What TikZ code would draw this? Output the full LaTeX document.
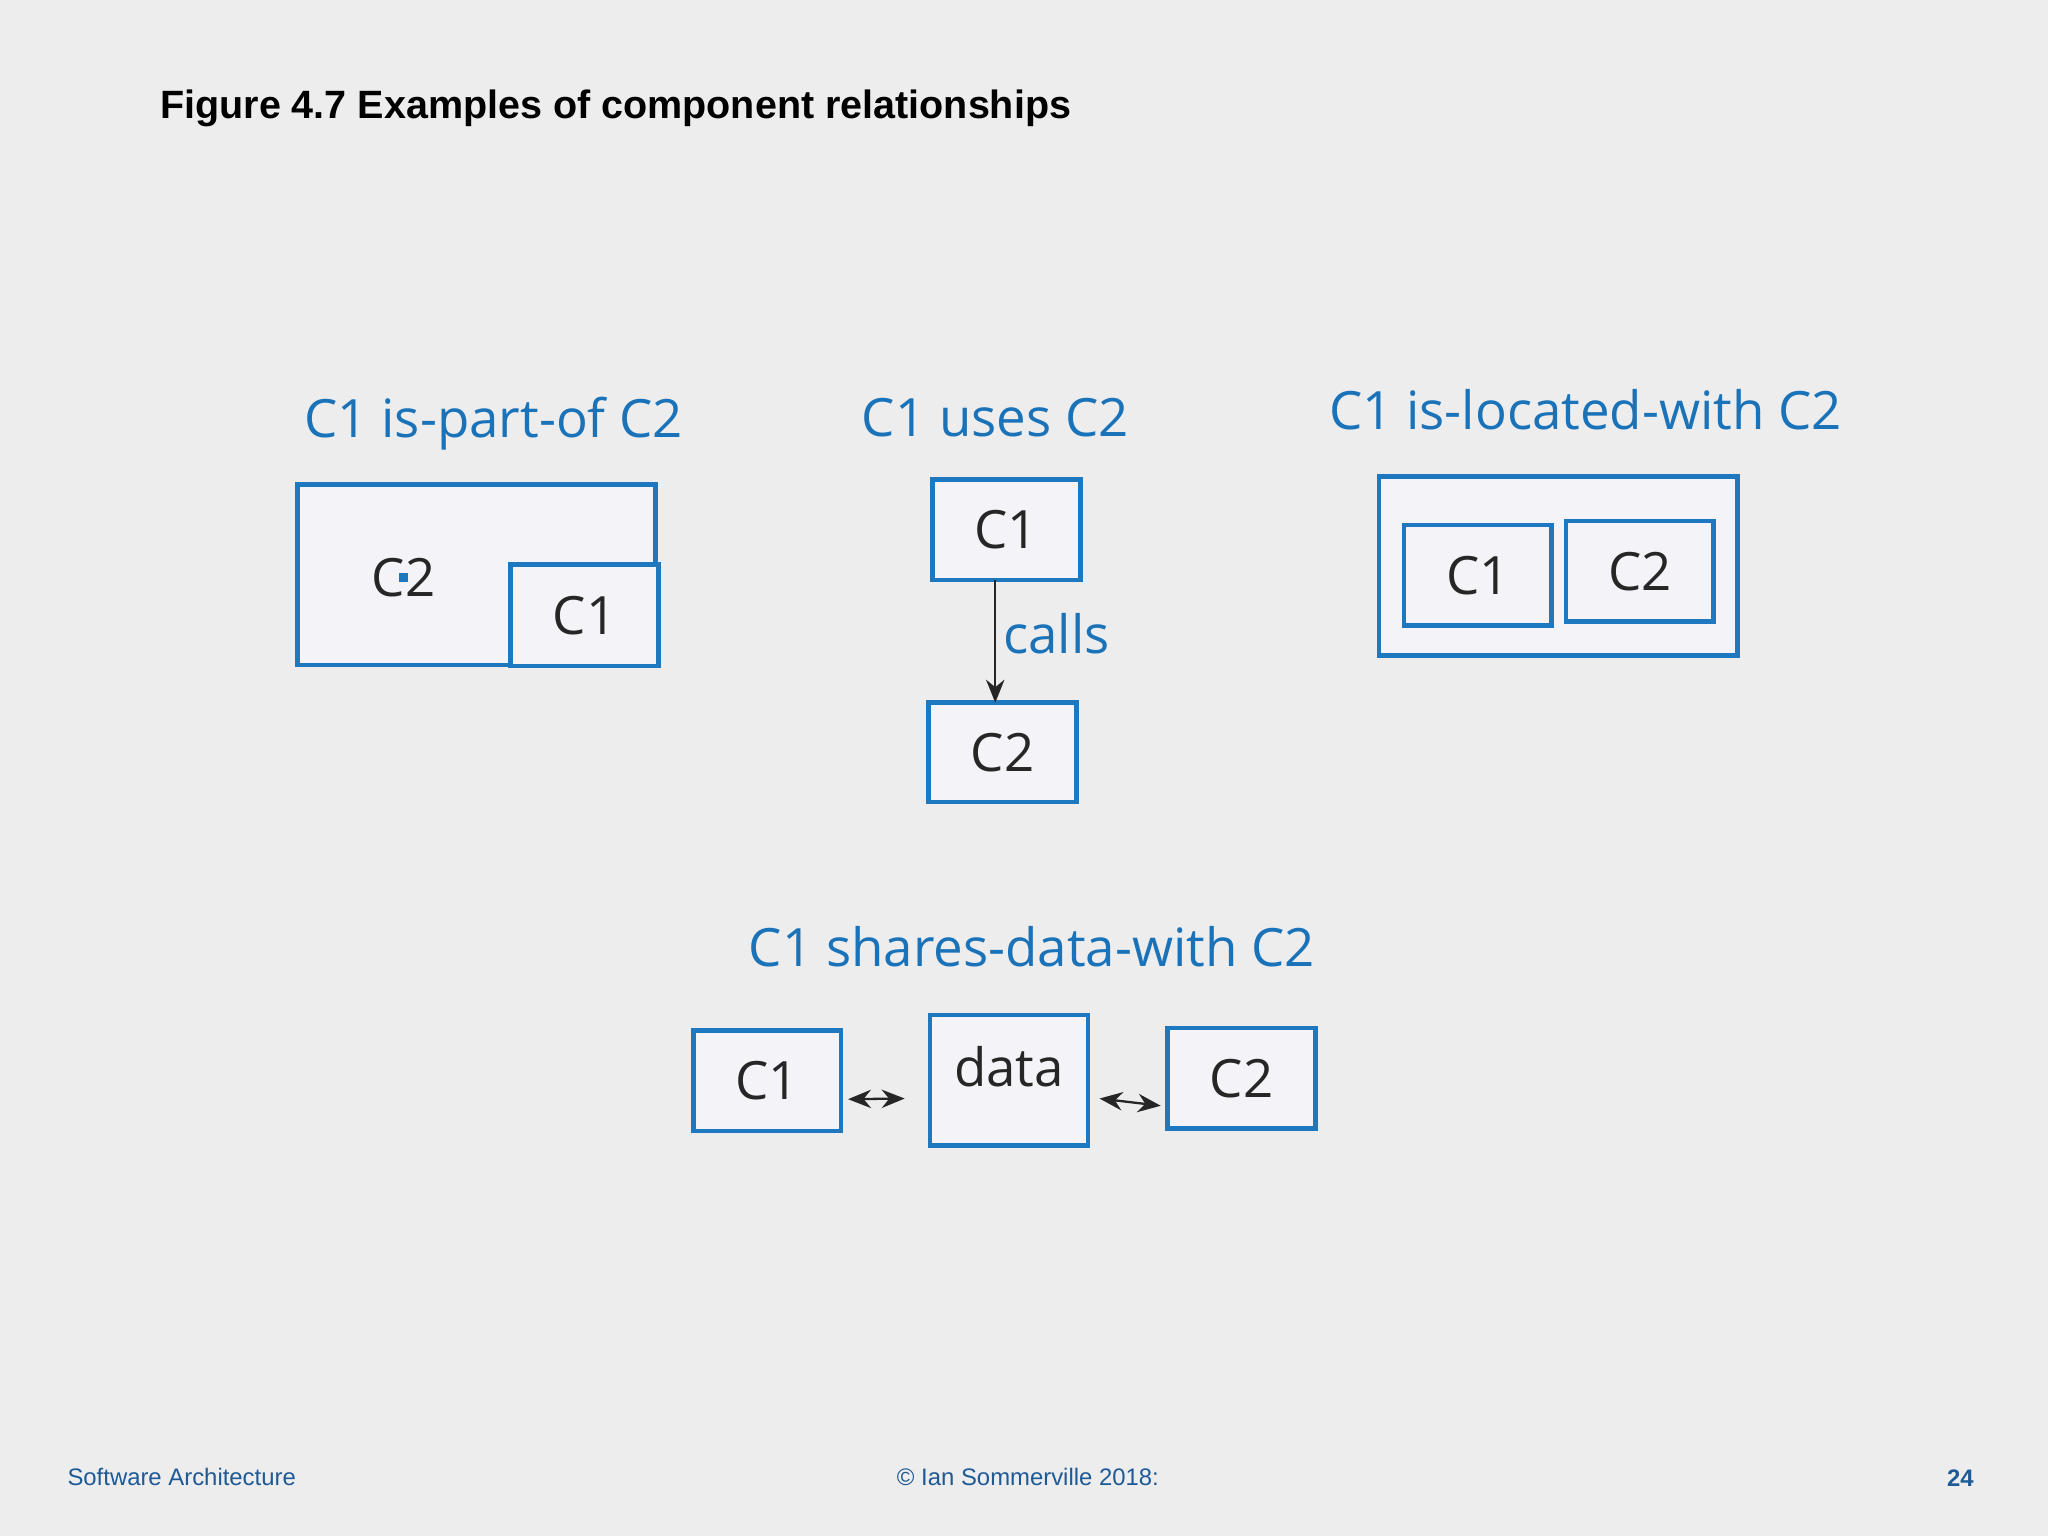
\documentclass[tikz,border=0pt]{standalone}
\usepackage{fontspec}
\setmainfont{Open Sans}
\newfontfamily\hv{Liberation Sans}
\usetikzlibrary{arrows.meta}
\definecolor{bg}{HTML}{EDEDEE}
\definecolor{bfill}{HTML}{F4F4F8}
\definecolor{bblue}{HTML}{1E78C0}
\definecolor{tblue}{HTML}{1A72B8}
\definecolor{fblue}{HTML}{1D5A96}
\begin{document}
\begin{tikzpicture}[x=0.01cm,y=-0.01cm,
  box/.style={draw=bblue,fill=bfill,line width=1pt,inner sep=0pt,font=\fontsize{11.5}{13}\selectfont,text=black!85},
  lbl/.style={text=tblue,font=\fontsize{11.5}{13}\selectfont,inner sep=0pt},
  arr/.style={line width=0.5pt,draw=black!85,-{Stealth[length=5pt,width=4pt]}},
  darr/.style={line width=0.5pt,draw=black!85,{Stealth[length=5pt,width=4pt]}-{Stealth[length=5pt,width=4pt]}}]
\fill[bg] (0,0) rectangle (1568,1176);
\useasboundingbox (0,0) rectangle (1568,1176);
\node[anchor=west,inner sep=0pt,font=\hv\bfseries\fontsize{8.6}{10}\selectfont] (title) at (122,83) {Figure 4.7 Examples of component relationships};
% A
\node[lbl] (ta) at (378,324) {C1 is-part-of C2};
\node[box,minimum width=2.74cm,minimum height=1.38cm] (a2) at (365,440) {};
\node[box,anchor=center] (a2l) at (309,442) {};
\node[inner sep=0pt,font=\fontsize{11.5}{13}\selectfont,text=black!85] (a2t) at (309,442) {C2};
\node[box,minimum width=1.13cm,minimum height=0.78cm] (a1) at (447.5,471) {C1};
% B
\node[lbl] (tb) at (762,320) {C1 uses C2};
\node[box,minimum width=1.13cm,minimum height=0.77cm] (b1) at (770.5,405.5) {C1};
\node[box,minimum width=1.13cm,minimum height=0.76cm] (b2) at (767.5,576) {C2};
\coordinate (bs) at (762,444);
\coordinate (be) at (762,538);
\draw[arr] (bs) -- (be);
\node[lbl] (calls) at (809,485) {calls};
% C
\node[lbl] (tc) at (1214,314) {C1 is-located-with C2};
\node[box,minimum width=2.74cm,minimum height=1.37cm] (co) at (1193,433.5) {};
\node[box,minimum width=1.13cm,minimum height=0.77cm] (c1) at (1131.5,440.5) {C1};
\node[box,minimum width=1.13cm,minimum height=0.77cm] (c2) at (1255.5,437.5) {C2};
% D
\node[lbl] (td) at (790,725) {C1 shares-data-with C2};
\node[box,minimum width=1.13cm,minimum height=0.77cm] (d1) at (587.5,827.5) {C1};
\node[box,minimum width=1.21cm,minimum height=1.00cm] (dd) at (772.5,827) {\raisebox{6pt}{data}};
\node[box,minimum width=1.13cm,minimum height=0.77cm] (d2) at (950.5,825.5) {C2};
\draw[darr] ([xshift=1pt,yshift=-4pt]d1.east) -- ([xshift=-5pt,yshift=-4pt]dd.west);
\draw[darr] ([xshift=2pt,yshift=-4pt]dd.east) -- ([xshift=-1pt,yshift=-6pt]d2.west);
% footer
\node[anchor=west,inner sep=0pt,text=fblue,font=\hv\fontsize{5.2}{6}\selectfont] (f1) at (51,1131) {Software Architecture};
\node[inner sep=0pt,text=fblue,font=\hv\fontsize{5.2}{6}\selectfont] (f2) at (787,1131) {© Ian Sommerville 2018:};
\node[inner sep=0pt,text=fblue,font=\hv\bfseries\fontsize{5.2}{6}\selectfont] (f3) at (1501,1132) {24};
\end{tikzpicture}
\end{document}
